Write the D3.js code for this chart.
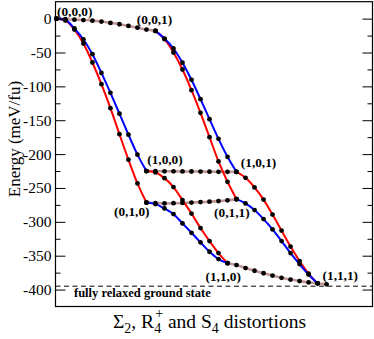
<!DOCTYPE html>
<html>
<head>
<meta charset="utf-8">
<script src="https://cdn.jsdelivr.net/npm/d3@7"></script>
<style>
  body { margin: 0; background: #fff; }
  svg { display: block; font-family: 'Liberation Serif', 'Times New Roman', serif; }
</style>
</head>
<body>
<div id="chart"></div>
<script>
// energies (meV/fu) along each cube edge, one value per interpolation step
// S4 edges (third index)
const s4From000To001 = [0, -0.9, -1.5, -2.1, -3.0, -4.3, -6.3, -8.3, -10.8, -13.4, -16.1, -18.1];
const s4From100To101 = [-225.1, -225.3, -225.4, -225.5, -225.6, -225.7, -225.8, -226.0, -226.1, -226.2, -226.3];
const s4From010To011 = [-271.6, -272.6, -272.8, -272.5, -272.1, -271.5, -270.9, -270.3, -269.4, -268.2, -266.5];
const s4From110To111 = [-361, -363.8, -368.2, -372.2, -375.9, -379.3, -382.6, -385.2, -387.5, -389.4, -390.8, -392.3];
// Sigma2 edges (first index)
const sigmaFrom000To100 = [0, -2.1, -14.6, -30.8, -52.5, -80.1, -109.6, -140.3, -171.3, -200.8, -225.1];
const sigmaFrom001To101 = [-18.1, -29.4, -44.1, -65.1, -90.3, -118.9, -148.4, -177.5, -204.0, -226.3];
const sigmaFrom010To110 = [-271.6, -273.8, -280.2, -288.6, -302.3, -316.2, -330.3, -344.2, -355.0, -361];
const sigmaFrom011To111 = [-266.5, -272.8, -282.7, -296.0, -311.2, -328.4, -346.1, -362.4, -377.8, -390.8];
// R4+ edges (second index)
const rFrom000To010 = [0, -2.7, -16.1, -36.7, -64.8, -96.8, -132.2, -170.6, -208.2, -243.3, -271.6];
const rFrom001To011 = [-18.1, -30.4, -50.0, -75.1, -105.6, -139.1, -175.0, -210.8, -240.9, -266.5];
const rFrom100To110 = [-225.1, -227.1, -235.5, -248.7, -267.9, -287.8, -309.2, -328.4, -346.1, -361];
const rFrom101To111 = [-226.3, -235.0, -249.2, -267.2, -289.3, -312.9, -336.5, -357.9, -376.4, -390.8];

// cube corners
const vertexNames = ['(0,0,0)', '(0,0,1)', '(1,0,0)', '(1,0,1)', '(0,1,0)', '(0,1,1)', '(1,1,0)', '(1,1,1)'];
const vertexSteps = [0, 11, 10, 20, 10, 20, 19, 30];
const vertexEnergies = [0, -18.1, -225.1, -226.3, -271.6, -266.5, -361, -392.3];

const groundState = -395;
const yMajorTicks = [0, -50, -100, -150, -200, -250, -300, -350, -400];
const yMinorTicks = [-25, -75, -125, -175, -225, -275, -325, -375];

const xAccessor = (d) => d.step;
const yAccessor = (d) => d.energy;

async function draw() {
  let dimensions = {
    width: 374,
    height: 339,
    margin: { top: 1.7, bottom: 32.5, left: 55.5, right: 1.5 },
  };
  dimensions.ctrWidth = dimensions.width - dimensions.margin.left - dimensions.margin.right;
  dimensions.ctrHeight = dimensions.height - dimensions.margin.top - dimensions.margin.bottom;

  // edge table built from the arrays above
  const edges = [
    { mode: 'S4', start: 0, values: s4From000To001 },
    { mode: 'S4', start: 10, values: s4From100To101 },
    { mode: 'S4', start: 10, values: s4From010To011 },
    { mode: 'S4', start: 19, values: s4From110To111 },
    { mode: 'R4', start: 0, values: rFrom000To010 },
    { mode: 'R4', start: 11, values: rFrom001To011 },
    { mode: 'R4', start: 10, values: rFrom100To110 },
    { mode: 'R4', start: 20, values: rFrom101To111 },
    { mode: 'Sigma2', start: 0, values: sigmaFrom000To100 },
    { mode: 'Sigma2', start: 11, values: sigmaFrom001To101 },
    { mode: 'Sigma2', start: 10, values: sigmaFrom010To110 },
    { mode: 'Sigma2', start: 20, values: sigmaFrom011To111 },
  ].map((e) => ({
    mode: e.mode,
    points: e.values.map((v, i) => ({ step: e.start + i, energy: v })),
  }));

  const colors = { S4: '#bf9595', R4: '#ff0000', Sigma2: '#0000ff' };
  const widths = { S4: 2.6, R4: 2, Sigma2: 2 };

  const svg = d3
    .select('#chart')
    .append('svg')
    .attr('width', dimensions.width)
    .attr('height', dimensions.height);

  const ctr = svg
    .append('g')
    .attr('transform', `translate(${dimensions.margin.left}, ${dimensions.margin.top})`);

  // scales
  const xScale = d3.scaleLinear().domain([-0.1, 35.1]).range([0, dimensions.ctrWidth]);
  const yScale = d3.scaleLinear().domain([-425, 25]).range([dimensions.ctrHeight, 0]);

  // ground state reference
  ctr
    .append('line')
    .attr('x1', 0)
    .attr('x2', dimensions.ctrWidth)
    .attr('y1', yScale(groundState))
    .attr('y2', yScale(groundState))
    .attr('stroke', '#000')
    .attr('stroke-width', 1)
    .attr('stroke-dasharray', '5,3.5');

  ctr
    .append('text')
    .attr('x', 18.5)
    .attr('y', yScale(groundState) + 11)
    .attr('font-size', 12.5)
    .attr('font-weight', 'bold')
    .text('fully relaxed ground state');

  // lines
  const lineGen = d3
    .line()
    .x((d) => xScale(xAccessor(d)))
    .y((d) => yScale(yAccessor(d)))
    .curve(d3.curveMonotoneX);

  const order = ['S4', 'R4', 'Sigma2'];
  ctr
    .selectAll('path.edge')
    .data(edges.slice().sort((a, b) => order.indexOf(a.mode) - order.indexOf(b.mode)))
    .join('path')
    .attr('class', 'edge')
    .attr('d', (d) => lineGen(d.points))
    .attr('fill', 'none')
    .attr('stroke', (d) => colors[d.mode])
    .attr('stroke-width', (d) => widths[d.mode]);

  // dots
  ctr
    .selectAll('circle')
    .data(edges.flatMap((e) => e.points))
    .join('circle')
    .attr('cx', (d) => xScale(xAccessor(d)))
    .attr('cy', (d) => yScale(yAccessor(d)))
    .attr('r', 2.4)
    .attr('fill', '#000');

  // corner labels
  const labelOffsets = [[0.6, -2.6], [-18.7, -7.2], [0.8, -7], [4.3, -5.3], [-32.4, 13.5], [-22.4, 18], [-22, 17.4], [-4, -4.3]];
  ctr
    .selectAll('text.vertex')
    .data(vertexNames)
    .join('text')
    .attr('class', 'vertex')
    .attr('x', (d, i) => xScale(vertexSteps[i]) + labelOffsets[i][0])
    .attr('y', (d, i) => yScale(vertexEnergies[i]) + labelOffsets[i][1])
    .attr('font-size', 13.3)
    .attr('font-weight', 'bold')
    .text((d) => d);

  // axes (ticks point inward)
  const yAxis = d3
    .axisLeft(yScale)
    .tickValues(yMajorTicks)
    .tickSize(-10)
    .tickPadding(4)
    .tickFormat((d) => String(d));
  const yAxisMinor = d3.axisLeft(yScale).tickValues(yMinorTicks).tickSize(-5).tickFormat('');
  const yAxisRight = d3.axisRight(yScale).tickValues(yMajorTicks).tickSize(-10).tickFormat('');
  const yAxisRightMinor = d3.axisRight(yScale).tickValues(yMinorTicks).tickSize(-5).tickFormat('');

  const yAxisGroup = ctr.append('g').call(yAxis).classed('axis', true);
  ctr.append('g').call(yAxisMinor).classed('axis', true);
  ctr.append('g').attr('transform', `translate(${dimensions.ctrWidth},0)`).call(yAxisRight).classed('axis', true);
  ctr.append('g').attr('transform', `translate(${dimensions.ctrWidth},0)`).call(yAxisRightMinor).classed('axis', true);

  ctr.selectAll('.axis .domain').remove();
  ctr.selectAll('.axis line').attr('stroke', '#000').attr('stroke-width', 1);
  yAxisGroup
    .attr('font-family', "'Liberation Serif', serif")
    .selectAll('text')
    .attr('font-size', 15.5)
    .attr('fill', '#000');

  // frame
  ctr
    .append('rect')
    .attr('width', dimensions.ctrWidth)
    .attr('height', dimensions.ctrHeight)
    .attr('fill', 'none')
    .attr('stroke', '#000')
    .attr('stroke-width', 1.2);

  // axis titles
  svg
    .append('text')
    .attr('transform', 'rotate(-90)')
    .attr('x', -139)
    .attr('y', 20)
    .attr('text-anchor', 'middle')
    .attr('font-size', 17)
    .text('Energy (meV/fu)');

  const xTitle = svg.append('text').attr('x', 113).attr('y', 328).attr('font-size', 19.5);
  xTitle.append('tspan').text('Σ');
  xTitle.append('tspan').attr('dy', 5).attr('font-size', 14).text('2');
  xTitle.append('tspan').attr('dy', -5).text(', R');
  xTitle.append('tspan').attr('dy', 5).attr('font-size', 14).text('4');
  xTitle.append('tspan').attr('dx', -6).attr('dy', -15).attr('font-size', 14).text('+');
  xTitle.append('tspan').attr('dy', 10).text(' and S');
  xTitle.append('tspan').attr('dy', 5).attr('font-size', 14).text('4');
  xTitle.append('tspan').attr('dy', -5).text(' distortions');
}
draw();
</script>
</body>
</html>
